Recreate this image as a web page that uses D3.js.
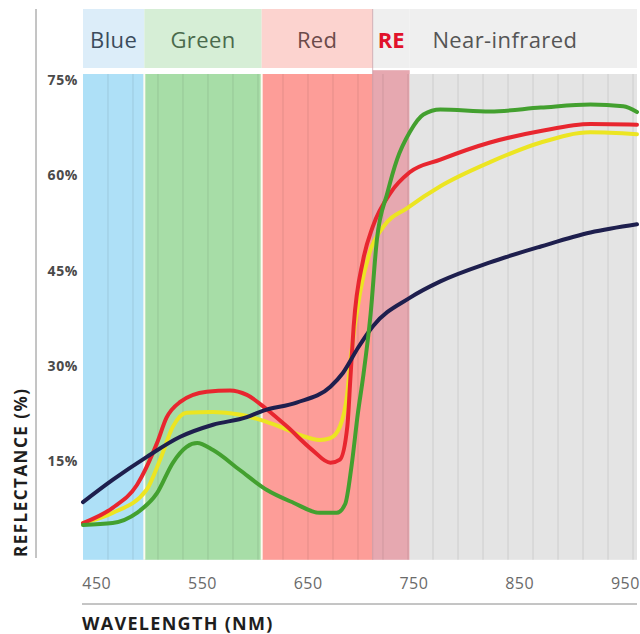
<!DOCTYPE html>
<html>
<head>
<meta charset="utf-8">
<script src="https://cdn.jsdelivr.net/npm/d3@7/dist/d3.min.js"></script>
<style>
  body { margin: 0; background: #fff; }
  text { font-family: "Open Sans", "DejaVu Sans", sans-serif; }
</style>
</head>
<body>
<svg id="canvas"></svg>
<script>
var width = 640,
	height = 634;

// spectral bands (nm)
var bandNames = ["Blue", "Green", "Red", "RE", "Near-infrared"];
var bandEdges = [437, 495, 606, 711, 746, 961];
var bandFill = ["#aee0f7", "#a7dda7", "#fd9d98", "#e6a8b0", "#e4e4e4"];
var headFill = ["#dcedf9", "#d6eed6", "#fcd3cf", "#efefef", "#efefef"];
var headText = ["#3b4b5c", "#4a6a4c", "#6b4a4a", "#e1122b", "#555555"];

var xTicks = [450, 550, 650, 750, 850, 950];
var yTicks = [15, 30, 45, 60, 75];

// reflectance curves: [wavelength nm, reflectance %]
var navy = [[437, 8.5], [465, 12.0], [497, 15.6], [529, 18.8], [560, 20.7], [592, 21.9],
	[607, 22.9], [639, 24.2], [671, 26.7], [683, 28.9], [697, 32.8], [711, 36.2],
	[746, 40.7], [775, 43.3], [822, 46.3], [870, 48.8], [917, 51.0], [961, 52.3]];
var yellow = [[437, 5.2], [465, 6.8], [497, 10.4], [510, 15.2], [522, 20.4], [535, 22.6],
	[560, 22.7], [585, 22.3], [604, 21.5], [623, 20.4], [642, 19.1], [661, 18.3],
	[671, 18.6], [680, 20.4], [687, 25.7], [690, 30.9], [699, 41.5], [708, 47.8],
	[721, 51.9], [744, 54.9], [775, 58.3], [822, 62.1], [870, 65.2], [917, 66.8], [961, 66.5]];
var red = [[437, 5.2], [465, 7.6], [488, 11.2], [507, 17.8], [516, 21.8], [529, 24.3],
	[554, 25.9], [576, 26.1], [592, 25.4], [611, 23.1], [630, 20.4], [654, 16.7],
	[671, 14.7], [680, 15.2], [687, 20.4], [690, 28.3], [693, 36.2], [702, 46.7],
	[711, 51.9], [728, 57.3], [746, 60.5], [775, 62.5], [822, 65.2], [870, 67.0],
	[917, 68.1], [961, 68.0]];
var green = [[437, 4.9], [465, 5.2], [488, 6.8], [507, 9.9], [522, 14.7], [535, 17.2],
	[545, 17.8], [560, 16.7], [585, 13.6], [611, 10.4], [636, 8.4], [661, 6.8],
	[677, 6.8], [685, 8.2], [691, 14.2], [697, 22.5], [702, 28.3], [709, 38.1],
	[715, 49.9], [725, 57.3], [734, 62.5], [746, 66.8], [759, 69.6], [775, 70.4],
	[822, 70.1], [870, 70.7], [917, 71.2], [948, 70.9], [961, 70.0]];

var series = [
	{ name: "yellow", values: yellow, color: "#ece522" },
	{ name: "red", values: red, color: "#e8262f" },
	{ name: "navy", values: navy, color: "#1e1f4e" },
	{ name: "green", values: green, color: "#43a02f" }
];

var svg = d3.select("#canvas")
	.attr("width", width)
	.attr("height", height);

var x = d3.scaleLinear()
	.domain([bandEdges[0], bandEdges[bandEdges.length - 1]])
	.range([83, 637]);

var y = d3.scaleLinear()
	.domain([0, 76])
	.range([556, 74]);

var bands = bandNames.map(function(n, i) {
	return { name: n, from: bandEdges[i], to: bandEdges[i + 1], i: i };
});

// header strip
svg.selectAll("rect.head")
	.data(bands)
	.enter()
	.append("rect")
	.attr("class", "head")
	.attr("x", function(d) { return x(d.from); })
	.attr("y", 9)
	.attr("width", function(d) { return x(d.to) - x(d.from); })
	.attr("height", 59)
	.attr("fill", function(d) { return headFill[d.i]; });

// band fills in plot
svg.selectAll("rect.band")
	.data(bands)
	.enter()
	.append("rect")
	.attr("class", "band")
	.attr("x", function(d) { return x(d.from); })
	.attr("y", function(d) { return d.name == "RE" ? y(76.6) : y(76); })
	.attr("width", function(d) { return x(d.to) - x(d.from); })
	.attr("height", function(d) { return y(-0.6) - (d.name == "RE" ? y(76.6) : y(76)); })
	.attr("fill", function(d) { return bandFill[d.i]; });

// faint vertical stripes
var stripes = d3.range(460.6, 961, 23.65);
svg.selectAll("line.stripe")
	.data(stripes)
	.enter()
	.append("line")
	.attr("class", "stripe")
	.attr("x1", function(d) { return x(d); })
	.attr("x2", function(d) { return x(d); })
	.attr("y1", y(76))
	.attr("y2", y(-0.6))
	.attr("stroke", "#000")
	.attr("stroke-opacity", 0.05)
	.attr("stroke-width", 2);

// white separators between visible bands
svg.selectAll("line.sep")
	.data([bandEdges[1], bandEdges[2]])
	.enter()
	.append("line")
	.attr("x1", function(d) { return x(d); })
	.attr("x2", function(d) { return x(d); })
	.attr("y1", y(76))
	.attr("y2", y(-0.6))
	.attr("stroke", "#fbfbf0")
	.attr("stroke-width", 2);

svg.append("line")
	.attr("x1", x(bandEdges[3])).attr("x2", x(bandEdges[3]))
	.attr("y1", 9).attr("y2", y(-0.6))
	.attr("stroke", "#b88a96")
	.attr("stroke-opacity", 0.6)
	.attr("stroke-width", 1);

// header labels
svg.selectAll("text.head")
	.data(bands)
	.enter()
	.append("text")
	.attr("x", function(d) {
		if (d.name == "Near-infrared") return (x(bandEdges[3]) + x(d.to)) / 2;
		return (x(d.from) + x(d.to)) / 2;
	})
	.attr("y", 48)
	.attr("text-anchor", "middle")
	.attr("font-size", 22)
	.attr("letter-spacing", function(d) { return d.name == "RE" ? 0 : 0.4; })
	.attr("font-weight", function(d) { return d.name == "RE" ? 700 : 400; })
	.attr("fill", function(d) { return headText[d.i]; })
	.text(function(d) { return d.name; });

// curves
var line = d3.line()
	.x(function(d) { return x(d[0]); })
	.y(function(d) { return y(d[1]); })
	.curve(d3.curveMonotoneX);

svg.selectAll("path.curve")
	.data(series)
	.enter()
	.append("path")
	.attr("d", function(d) { return line(d.values); })
	.attr("fill", "none")
	.attr("stroke", function(d) { return d.color; })
	.attr("stroke-width", 4)
	.attr("stroke-linejoin", "round")
	.attr("stroke-linecap", "round");

// y axis
svg.append("line")
	.attr("x1", 36).attr("x2", 36)
	.attr("y1", 9).attr("y2", 558)
	.attr("stroke", "#8a8a8a")
	.attr("stroke-width", 1);

svg.selectAll("text.ytick")
	.data(yTicks)
	.enter()
	.append("text")
	.attr("x", 78)
	.attr("y", function(d) { return y(d) + 5; })
	.attr("text-anchor", "end")
	.attr("font-size", 14)
	.attr("letter-spacing", 0.6)
	.attr("font-weight", 700)
	.attr("fill", "#4a4a4a")
	.text(function(d) { return d + "%"; });

svg.append("text")
	.attr("transform", "translate(27,557) rotate(-90)")
	.attr("text-anchor", "start")
	.attr("font-size", 17)
	.attr("letter-spacing", 1.5)
	.attr("font-weight", 700)
	.attr("fill", "#1e1e1e")
	.text("REFLECTANCE (%)");

// x axis
svg.selectAll("text.xtick")
	.data(xTicks)
	.enter()
	.append("text")
	.attr("x", function(d) { return x(d); })
	.attr("y", 589)
	.attr("text-anchor", "middle")
	.attr("font-size", 16)
	.attr("letter-spacing", 0.5)
	.attr("fill", "#6a6a6a")
	.text(function(d) { return d; });

svg.append("line")
	.attr("x1", 82).attr("x2", 637)
	.attr("y1", 604).attr("y2", 604)
	.attr("stroke", "#8a8a8a")
	.attr("stroke-width", 1);

svg.append("text")
	.attr("x", 82)
	.attr("y", 630)
	.attr("font-size", 18)
	.attr("letter-spacing", 1.3)
	.attr("font-weight", 700)
	.attr("fill", "#1e1e1e")
	.text("WAVELENGTH (NM)");
</script>
</body>
</html>
